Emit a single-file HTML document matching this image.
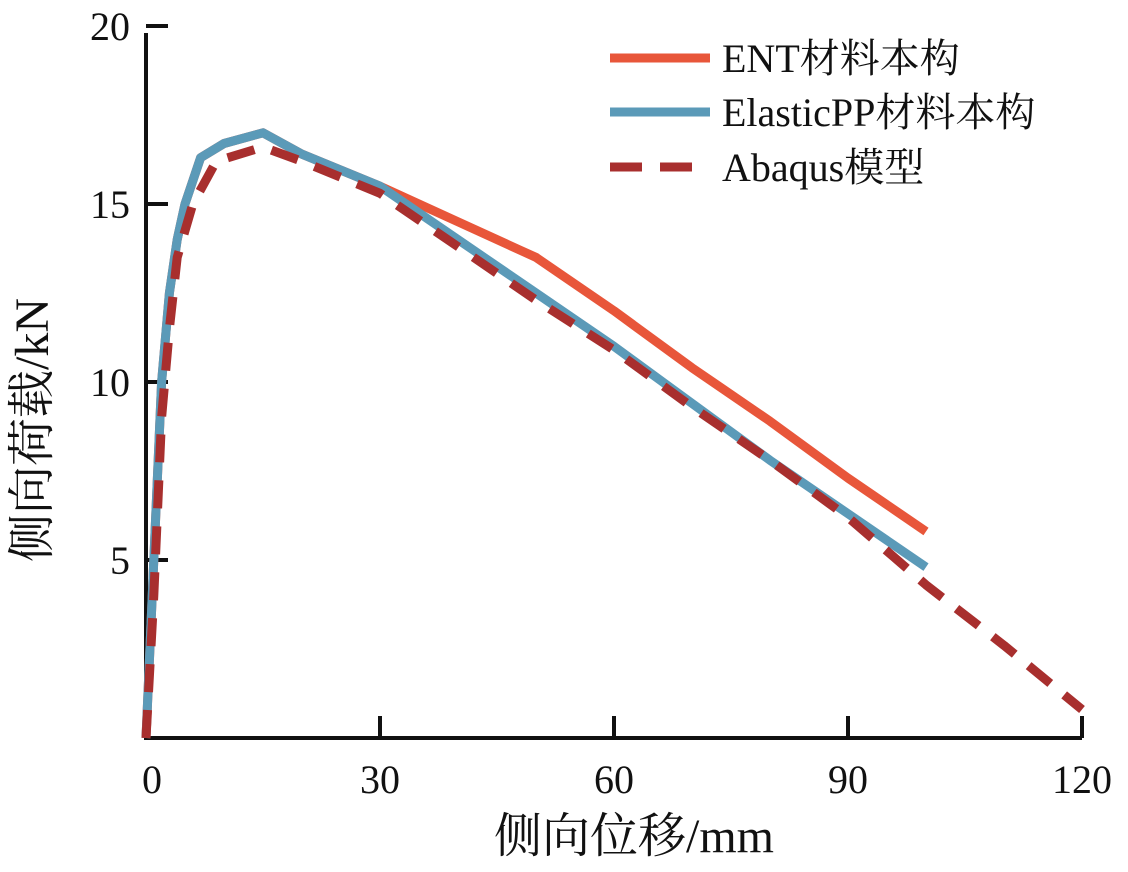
<!DOCTYPE html>
<html><head><meta charset="utf-8"><style>
html,body{margin:0;padding:0;background:#fff;}
svg{display:block;font-family:"Liberation Serif","Noto Serif CJK SC",serif;}
</style></head><body>
<svg id="chart" width="1128" height="872" viewBox="0 0 1128 872"></svg>
<script>
const xTicks=[0,30,60,90,120];
const yTicks=[5,10,15,20];
const xTickLabels=["0","30","60","90","120"];
const yTickLabels=["5","10","15","20"];
const entX=[0,1,2,3,4,5,7,10,15,20,30,40,48,50,60,70,80,90,100];
const entY=[0,5,10,12.5,14,15,16.3,16.7,17.0,16.4,15.5,14.5,13.7,13.5,12,10.4,8.9,7.3,5.8];
const elasticX=[0,1,2,3,4,5,7,10,15,20,30,40,50,60,70,80,90,100];
const elasticY=[0,5,10,12.5,14,15,16.3,16.7,17.0,16.4,15.5,14,12.5,11,9.4,7.8,6.3,4.8];
const abaqusX=[0,1,2,3,4,6,9,15,20,30,40,50,60,70,80,90,100,110,120];
const abaqusY=[0,4,9,11.5,13.5,15,16.2,16.6,16.2,15.3,13.8,12.3,10.9,9.3,7.8,6.2,4.3,2.6,0.8];

const NS="http://www.w3.org/2000/svg";
const svg=document.getElementById('chart');
const X0=146,XS=(1082-146)/120,Y0=738,YS=(738-26)/20;
const sx=v=>X0+v*XS, sy=v=>Y0-v*YS;
function mk(tag,attrs,parent){const e=document.createElementNS(NS,tag);for(const k in attrs)e.setAttribute(k,attrs[k]);(parent||svg).appendChild(e);return e;}

let ax=mk('line',{x1:sx(0),y1:sy(0),x2:sx(120),y2:sy(0),stroke:'#111','stroke-width':4});


let ay=mk('line',{x1:sx(0),y1:sy(0)+2,x2:sx(0),y2:33,stroke:'#111','stroke-width':4});



xTicks.forEach((v,i)=>{
  if(v>0){let t=mk('line',{x1:sx(v),y1:sy(0),x2:sx(v),y2:sy(0)-22,stroke:'#111','stroke-width':4});
  
  }
  let l=mk('text',{x:sx(v)+(v==0?6:0),y:793,'font-size':40,'text-anchor':'middle',fill:'#111'});
  
  
  l.textContent=xTickLabels[i];
});
yTicks.forEach((v,i)=>{
  let t=mk('line',{x1:sx(0),y1:sy(v),x2:sx(0)+22,y2:sy(v),stroke:'#111','stroke-width':4});
  
  
  let l=mk('text',{x:130,y:sy(v)+14,'font-size':40,'text-anchor':'end',fill:'#111'});
  
  
  l.textContent=yTickLabels[i];
});

function series(xs,ys,color,name,dash){
  const d=xs.map((x,i)=>(i?'L':'M')+sx(x).toFixed(1)+','+sy(ys[i]).toFixed(1)).join(' ');
  const a={d:d,fill:'none',stroke:color,'stroke-width':9,'stroke-linejoin':'round'};
  if(dash)a['stroke-dasharray']=dash;
  const p=mk('path',a);
  
  
}
series(entX,entY,'#e8563a','ent-series');
series(elasticX,elasticY,'#5b9ab8','elasticpp-series');
series(abaqusX,abaqusY,'#a82f2e','abaqus-series','28 18');

const leg=[['ENT材料本构','#e8563a',null,62],['ElasticPP材料本构','#5b9ab8',null,116],['Abaqus模型','#a82f2e','32 18',171]];
leg.forEach(([t,c,dash,y])=>{
  const a={x1:610,y1:y-4,x2:710,y2:y-4,stroke:c,'stroke-width':9};
  if(dash)a['stroke-dasharray']=dash;
  const ln=mk('line',a);
  
  
  const tx=mk('text',{x:722,y:y+10,'font-size':40,fill:'#111'});
  
  
  tx.textContent=t;
});

const xt=mk('text',{x:634,y:852,'font-size':48,'text-anchor':'middle',fill:'#111'});


xt.textContent='侧向位移/mm';
const yt=mk('text',{x:0,y:0,'font-size':48,'text-anchor':'middle',fill:'#111',transform:'translate(48,430) rotate(-90)'});


yt.textContent='侧向荷载/kN';
</script>
</body></html>
